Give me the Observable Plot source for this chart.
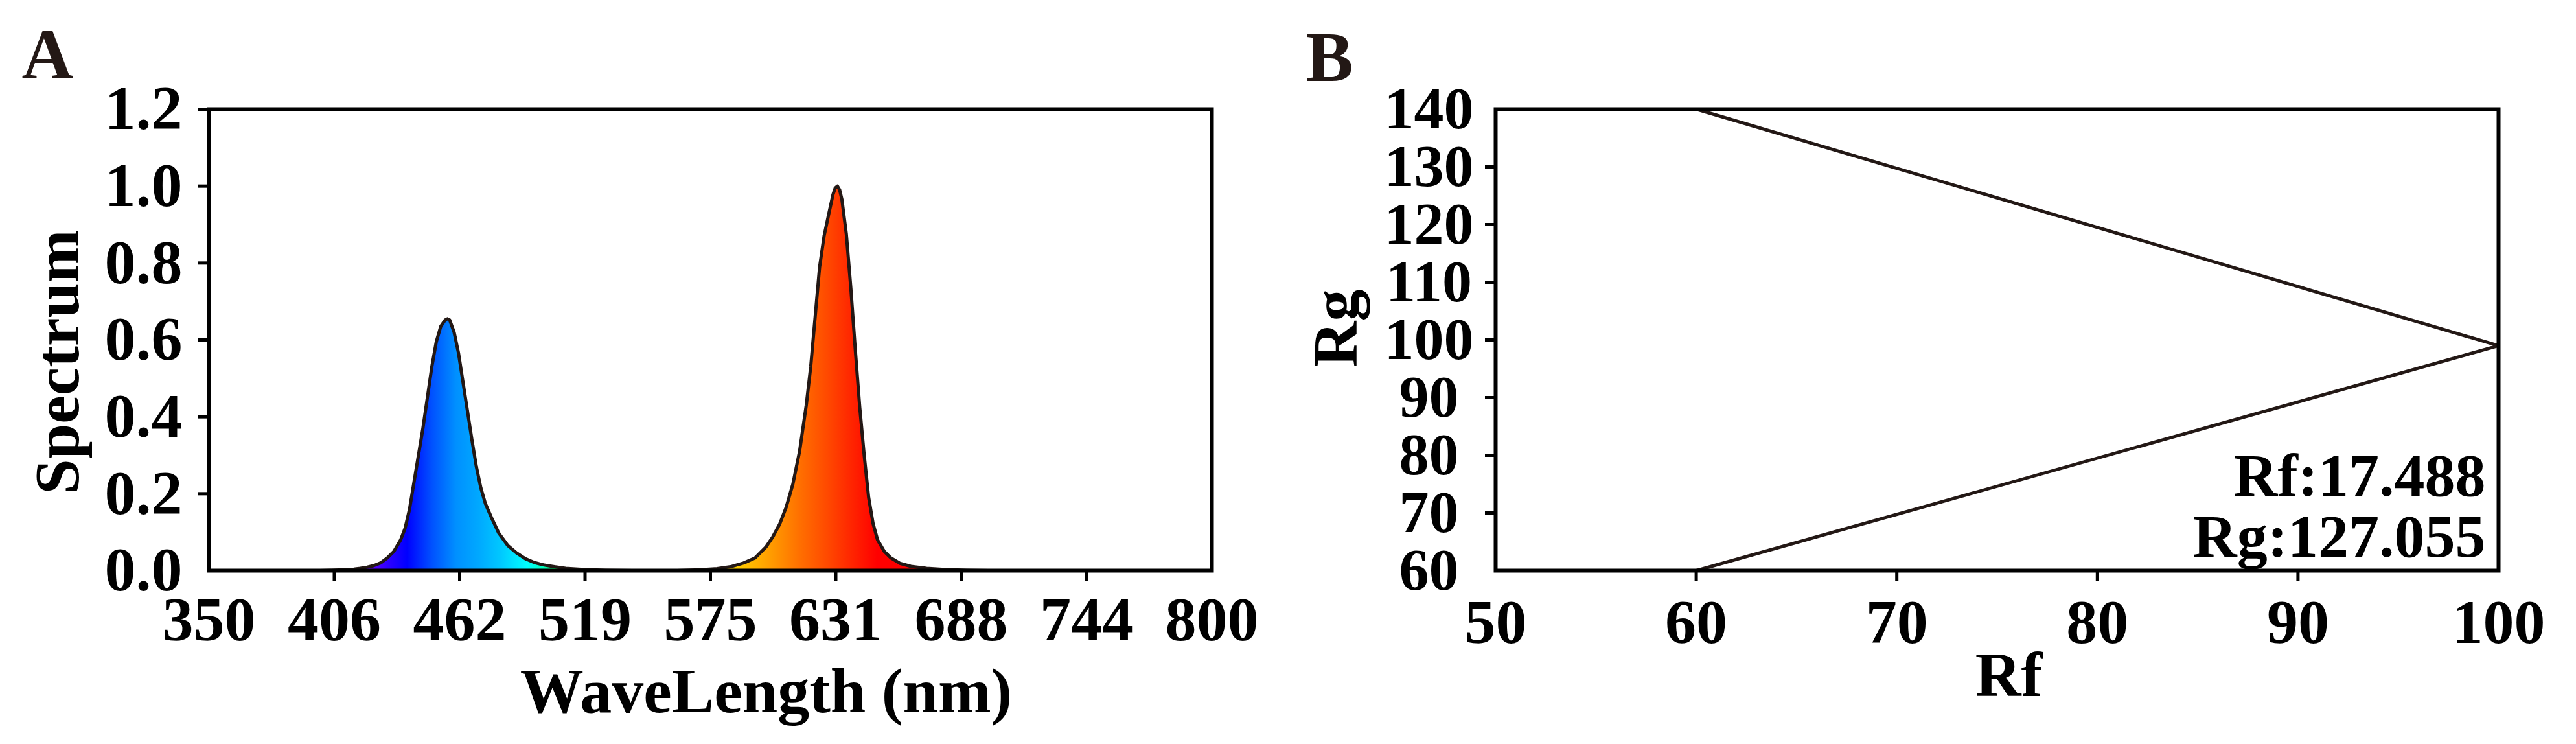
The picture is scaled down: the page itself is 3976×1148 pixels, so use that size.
<!DOCTYPE html>
<html>
<head>
<meta charset="utf-8">
<script src="https://cdn.jsdelivr.net/npm/d3@7"></script>
<script src="https://cdn.jsdelivr.net/npm/@observablehq/plot@0.6"></script>
<style>
  html, body { margin: 0; padding: 0; background: #fff; }
  #fig { width: 3976px; height: 1148px; display: flex; background: #fff; }
  #fig svg { display: block; }
</style>
</head>
<body>
<div id="fig"></div>
<script>
// ---------- Panel A data: LED spectrum ----------
const wavelength = [350, 380, 400, 405, 410, 415, 418, 421, 424, 427, 430, 433, 436, 438, 440, 442, 444, 446, 448, 450,
  452, 454, 456, 457, 458, 460, 462, 464, 466, 468, 470, 472, 474, 477, 480, 484, 488, 492, 496, 500,
  505, 510, 518, 528, 540, 560, 570, 578, 584, 590, 595, 600, 603, 606, 609, 612, 615, 618, 620, 622,
  624, 626, 628, 630, 631, 632, 633, 634, 636, 638, 640, 642, 644, 646, 648, 650, 653, 656, 660, 665,
  672, 680, 690, 700, 800];
const spectrum = [0, 0, 0, 0.001, 0.002, 0.004, 0.006, 0.009, 0.013, 0.02, 0.033, 0.05, 0.08, 0.11, 0.16, 0.23, 0.3, 0.37, 0.45, 0.53,
  0.595, 0.635, 0.652, 0.655, 0.652, 0.62, 0.565, 0.49, 0.415, 0.34, 0.27, 0.215, 0.175, 0.135, 0.098, 0.066, 0.046, 0.031, 0.021, 0.015,
  0.01, 0.006, 0.003, 0.001, 0, 0, 0.002, 0.005, 0.01, 0.02, 0.033, 0.062, 0.088, 0.12, 0.165, 0.225, 0.31, 0.43, 0.53, 0.66,
  0.79, 0.87, 0.925, 0.978, 0.995, 1.0, 0.99, 0.965, 0.875, 0.735, 0.575, 0.425, 0.3, 0.19, 0.122, 0.08, 0.05, 0.033, 0.019, 0.011,
  0.006, 0.003, 0.001, 0, 0];
const xTicksA = [350, 406.25, 462.5, 518.75, 575, 631.25, 687.5, 743.75, 800];
const xTickLabelsA = ["350", "406", "462", "519", "575", "631", "688", "744", "800"];
const yTicksA = [0, 0.2, 0.4, 0.6, 0.8, 1.0, 1.2];
const yTickLabelsA = ["0.0", "0.2", "0.4", "0.6", "0.8", "1.0", "1.2"];

// ---------- Panel B data: Rf-Rg boundary ----------
const rfBoundary = [60, 100, 60];
const rgBoundary = [140, 99, 60];
const xTicksB = [50, 60, 70, 80, 90, 100];
const yTicksB = [60, 70, 80, 90, 100, 110, 120, 130, 140];
const metricNames = ["Rf", "Rg"];
const metricValues = [17.488, 127.055];

// ---------- styling ----------
const FONT = "'Liberation Serif', 'Times New Roman', Times, serif";
const INK = "#231815";
const specStops = [[350, "#7000ff"], [420, "#7000ff"], [430, "#3000ff"], [439, "#0000ff"], [450, "#0050ff"],
  [461, "#0090ff"], [471, "#00a8ff"], [481, "#00c8ff"], [488, "#00e8ff"], [493, "#00ffff"], [500, "#00ffc0"],
  [506, "#00ff60"], [515, "#20ff00"], [560, "#d0ff00"], [578, "#ffe400"], [586, "#ffd000"], [601, "#ffa000"],
  [615, "#ff7000"], [628, "#ff4800"], [640, "#ff2000"], [650, "#ff0000"], [800, "#ff0000"]];

const baseStyle = {fontFamily: FONT, fontWeight: "bold", color: "#000", background: "#fff", overflow: "visible"};

// ---------- Panel A ----------
const specData = wavelength.map((nm, i) => ({nm, v: spectrum[i]}));
const labXA = new Map(xTicksA.map((d, i) => [d, xTickLabelsA[i]]));
const labYA = new Map(yTicksA.map((d, i) => [d, yTickLabelsA[i]]));

const plotA = Plot.plot({
  width: 1988, height: 1148,
  marginLeft: 322, marginRight: 118, marginTop: 168, marginBottom: 268,
  style: baseStyle,
  x: {domain: [350, 800], label: null},
  y: {domain: [0, 1.2], label: null},
  marks: [
    Plot.areaY(specData, {x: "nm", y: "v", fill: "url(#specgrad)"}),
    Plot.lineY(specData, {x: "nm", y: "v", stroke: INK, strokeWidth: 5, strokeLinejoin: "round"}),
    Plot.frame({stroke: "#000", strokeWidth: 6}),
    Plot.axisX(xTicksA.slice(1, -1), {tickSize: 16, strokeWidth: 5, tickFormat: () => "", label: null}),
    Plot.axisX(xTicksA, {tickSize: 0, tickPadding: 39, tickFormat: d => labXA.get(d), fontSize: 96, label: null}),
    Plot.axisY(yTicksA.slice(1), {tickSize: 16, strokeWidth: 5, tickFormat: () => "", label: null}),
    Plot.axisY(yTicksA, {tickSize: 0, tickPadding: 41, tickFormat: d => labYA.get(d), fontSize: 96, label: null}),
    Plot.text(["A"], {text: d => d, frameAnchor: "top-left", dx: -289, dy: -48, textAnchor: "start", lineAnchor: "bottom", fontSize: 110, fontWeight: "bold", fill: INK}),
    Plot.text(["Spectrum"], {text: d => d, frameAnchor: "left", rotate: -90, dx: -202, dy: 34, textAnchor: "middle", lineAnchor: "bottom", fontSize: 98, fontWeight: "bold", fill: "#000"}),
    Plot.text(["WaveLength (nm)"], {text: d => d, frameAnchor: "bottom", dx: 86, dy: 218, textAnchor: "middle", lineAnchor: "bottom", fontSize: 98, fontWeight: "bold", fill: "#000"})
  ]
});

// gradient fill following the wavelength colours, positioned with the x scale
(function addGradient() {
  const xs = plotA.scale("x");
  const ns = "http://www.w3.org/2000/svg";
  const defs = document.createElementNS(ns, "defs");
  const grad = document.createElementNS(ns, "linearGradient");
  grad.setAttribute("id", "specgrad");
  grad.setAttribute("gradientUnits", "userSpaceOnUse");
  grad.setAttribute("x1", xs.apply(350));
  grad.setAttribute("x2", xs.apply(800));
  grad.setAttribute("y1", 0);
  grad.setAttribute("y2", 0);
  for (const [nm, c] of specStops) {
    const s = document.createElementNS(ns, "stop");
    s.setAttribute("offset", ((nm - 350) / 450).toFixed(5));
    s.setAttribute("stop-color", c);
    grad.appendChild(s);
  }
  defs.appendChild(grad);
  plotA.insertBefore(defs, plotA.firstChild);
})();

// ---------- Panel B ----------
const boundary = rfBoundary.map((rf, i) => ({rf, rg: rgBoundary[i]}));
const metricText = metricNames.map((n, i) => `${n}:${metricValues[i].toFixed(3)}`);

const plotB = Plot.plot({
  width: 1988, height: 1148,
  marginLeft: 320, marginRight: 120, marginTop: 168, marginBottom: 268,
  style: baseStyle,
  x: {domain: [50, 100], label: null},
  y: {domain: [60, 140], label: null},
  marks: [
    Plot.line(boundary, {x: "rf", y: "rg", stroke: INK, strokeWidth: 5}),
    Plot.frame({stroke: "#000", strokeWidth: 6}),
    Plot.axisX(xTicksB.slice(1, -1), {tickSize: 17, strokeWidth: 5, tickFormat: () => "", label: null}),
    Plot.axisX(xTicksB, {tickSize: 0, tickPadding: 43, tickFormat: d => String(d), fontSize: 96, label: null}),
    Plot.axisY(yTicksB.slice(1, -1), {tickSize: 16, strokeWidth: 5, tickFormat: () => "", label: null}),
    Plot.axisY(yTicksB, {tickSize: 0, tickPadding: 103, textAnchor: "middle", tickFormat: d => String(d), fontSize: 92, label: null}),
    Plot.text(["B"], {text: d => d, frameAnchor: "top-left", dx: -293, dy: -44, textAnchor: "start", lineAnchor: "bottom", fontSize: 110, fontWeight: "bold", fill: INK}),
    Plot.text(["Rg"], {text: d => d, frameAnchor: "left", rotate: -90, dx: -215, dy: -18, textAnchor: "middle", lineAnchor: "bottom", fontSize: 98, fontWeight: "bold", fill: "#000"}),
    Plot.text(["Rf"], {text: d => d, frameAnchor: "bottom", dx: 18, dy: 193, textAnchor: "middle", lineAnchor: "bottom", fontSize: 98, fontWeight: "bold", fill: "#000"}),
    Plot.text([metricText[0]], {text: d => d, frameAnchor: "bottom-right", dx: -20, dy: -116, textAnchor: "end", lineAnchor: "bottom", fontSize: 94, fontWeight: "bold", fill: "#000"}),
    Plot.text([metricText[1]], {text: d => d, frameAnchor: "bottom-right", dx: -20, dy: -22, textAnchor: "end", lineAnchor: "bottom", fontSize: 94, fontWeight: "bold", fill: "#000"})
  ]
});

const fig = document.getElementById("fig");
fig.appendChild(plotA);
fig.appendChild(plotB);
</script>
</body>
</html>
